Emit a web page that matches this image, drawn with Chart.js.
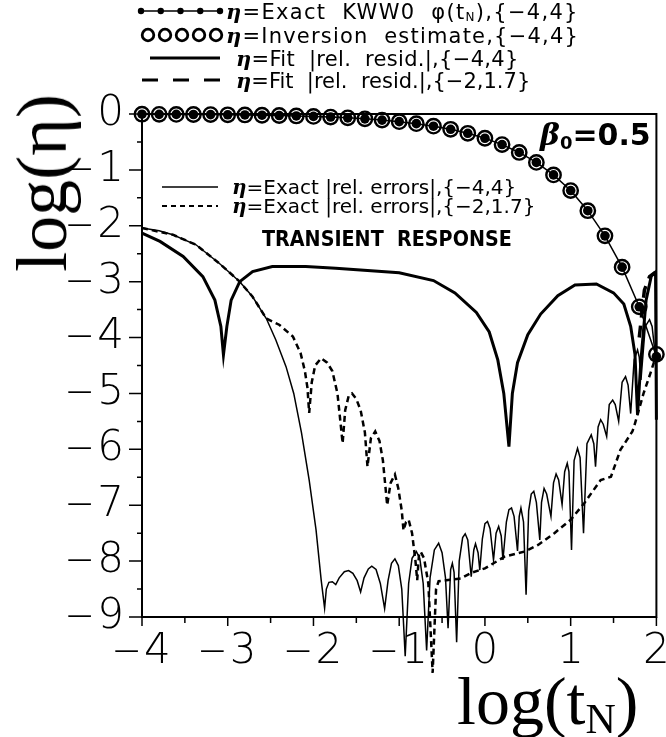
<!DOCTYPE html>
<html lang="en">
<head>
<meta charset="UTF-8">
<title>KWW0 transient response</title>
<script src="https://cdn.jsdelivr.net/npm/chart.js"></script>
<style>
  * { margin: 0; padding: 0; box-sizing: border-box; }
  body { width: 666px; height: 737px; background: #fff; overflow: hidden; color: #000;
         font-family: 'DejaVu Sans', sans-serif; }
  .wrap { position: relative; width: 666px; height: 737px; }
  #chart { position: absolute; left: 0; top: 0; }
  .t { position: absolute; white-space: nowrap; line-height: 1; }
  .leg { font-size: 21px; letter-spacing: 0.3px; }
  .leg i { font-family: 'DejaVu Serif', serif; font-weight: bold; }
  .leg sub { font-size: 12px; vertical-align: -2px; }
  .inner { font-size: 20px; letter-spacing: 0; }
  .sample { position: absolute; overflow: visible; }
  .serif { font-family: 'Liberation Serif', 'DejaVu Serif', serif; }
</style>
</head>
<body>
<div class="wrap">
  <canvas id="chart" width="666" height="737"></canvas>

  <!-- top legend -->
  <svg class="sample" style="left:136px;top:4px" width="90" height="14">
    <line x1="5" y1="7" x2="84" y2="7" stroke="#000" stroke-width="1.5"/>
    <circle cx="5" cy="7" r="3.2"/><circle cx="24.75" cy="7" r="3.2"/><circle cx="44.5" cy="7" r="3.2"/>
    <circle cx="64.25" cy="7" r="3.2"/><circle cx="84" cy="7" r="3.2"/>
  </svg>
  <div class="t leg" style="left:226px;top:1px;letter-spacing:1.3px"><i>η</i>=Exact&nbsp; KWW0&nbsp; φ(t<sub>N</sub>),{−4,4}</div>

  <svg class="sample" style="left:138px;top:27px" width="90" height="16" fill="none" stroke="#000" stroke-width="2.8">
    <circle cx="10" cy="8" r="5.8"/><circle cx="27" cy="8" r="5.8"/><circle cx="44" cy="8" r="5.8"/>
    <circle cx="61" cy="8" r="5.8"/><circle cx="78" cy="8" r="5.8"/>
  </svg>
  <div class="t leg" style="left:226px;top:25px;letter-spacing:1.2px"><i>η</i>=Inversion&nbsp; estimate,{−4,4}</div>

  <svg class="sample" style="left:140px;top:52px" width="90" height="12">
    <line x1="10" y1="6" x2="80" y2="6" stroke="#000" stroke-width="3"/>
  </svg>
  <div class="t leg" style="left:236px;top:48px"><i>η</i>=Fit&nbsp; |rel.&nbsp; resid.|,{−4,4}</div>

  <svg class="sample" style="left:140px;top:74px" width="90" height="12">
    <line x1="2" y1="6" x2="82" y2="6" stroke="#000" stroke-width="3" stroke-dasharray="16 15"/>
  </svg>
  <div class="t leg" style="left:236px;top:70px;letter-spacing:0"><i>η</i>=Fit&nbsp; |rel.&nbsp; resid.|,{−2,1.7}</div>

  <!-- inner legend -->
  <svg class="sample" style="left:160px;top:181px" width="62" height="12">
    <line x1="2" y1="6" x2="58" y2="6" stroke="#000" stroke-width="1.5"/>
  </svg>
  <div class="t leg inner" style="left:232px;top:177px"><i>η</i>=Exact |rel. errors|,{−4,4}</div>
  <svg class="sample" style="left:160px;top:200px" width="62" height="12">
    <line x1="2" y1="6" x2="58" y2="6" stroke="#000" stroke-width="2" stroke-dasharray="5 4"/>
  </svg>
  <div class="t leg inner" style="left:232px;top:196px"><i>η</i>=Exact |rel. errors|,{−2,1.7}</div>

  <div class="t" style="left:262px;top:228px;font-size:22px;font-weight:bold;transform:scaleX(0.87);transform-origin:0 0">TRANSIENT&nbsp; RESPONSE</div>
  <div class="t" style="left:540px;top:120px;font-size:30px;font-weight:bold"><i style="font-family:'DejaVu Serif',serif">β</i><sub style="font-size:18px;vertical-align:-4px">0</sub>=0.5</div>

  <!-- axis titles -->
  <div class="t serif" style="left:42px;top:183px;font-size:72px;transform:translate(-50%,-50%) rotate(-90deg)">log(η)</div>
  <div class="t serif" style="left:457px;top:667px;font-size:68px">log(t<sub style="font-size:42px;vertical-align:-9px">N</sub>)</div>
</div>

<script>
  // tick labels
  const xTickLabels = [-4, -3, -2, -1, 0, 1, 2];
  const yTickLabels = [0, -1, -2, -3, -4, -5, -6, -7, -8, -9];

  // eta = exact KWW0 phi(t_N) and the inversion estimate (same grid)
  const kwwX = [-4, -3.8, -3.6, -3.4, -3.2, -3, -2.8, -2.6, -2.4, -2.2, -2, -1.8, -1.6, -1.4, -1.2, -1,
                -0.8, -0.6, -0.4, -0.2, 0, 0.2, 0.4, 0.6, 0.8, 1, 1.2, 1.4, 1.6, 1.8, 2];
  const kwwY = [-0.004, -0.006, -0.007, -0.009, -0.011, -0.014, -0.017, -0.022, -0.027, -0.035, -0.043,
                -0.055, -0.069, -0.087, -0.109, -0.137, -0.173, -0.218, -0.274, -0.345, -0.434, -0.547,
                -0.688, -0.866, -1.09, -1.37, -1.73, -2.18, -2.74, -3.45, -4.34];
  const invY = [-0.004, -0.006, -0.007, -0.009, -0.011, -0.014, -0.017, -0.022, -0.027, -0.035, -0.043,
                -0.055, -0.069, -0.087, -0.109, -0.137, -0.173, -0.218, -0.274, -0.345, -0.434, -0.547,
                -0.688, -0.866, -1.09, -1.37, -1.73, -2.18, -2.74, -3.45, -4.30];

  // fit |rel. resid.|, {-4,4}
  const fit44X = [-4, -3.79, -3.52, -3.29, -3.15, -3.08, -3.05, -3.01, -2.96, -2.86, -2.71, -2.48, -2.09,
                  -1.74, -1.0, -0.6, -0.35, -0.1, 0.05, 0.15, 0.22, 0.28, 0.32, 0.38, 0.5, 0.65, 0.85,
                  1.05, 1.3, 1.5, 1.62, 1.7, 1.75, 1.78, 1.82, 1.88, 1.94, 1.99, 2.0];
  const fit44Y = [-2.13, -2.28, -2.55, -2.91, -3.33, -3.8, -4.31, -3.8, -3.33, -3.0, -2.82, -2.73, -2.73,
                  -2.76, -2.84, -2.98, -3.2, -3.55, -3.9, -4.4, -5.0, -5.95, -5.0, -4.45, -3.95, -3.58,
                  -3.25, -3.06, -3.04, -3.2, -3.4, -3.8, -4.3, -5.38, -4.4, -3.33, -2.9, -2.83, -5.47];

  // fit |rel. resid.|, {-2,1.7}
  const fit217X = [1.8, 1.86, 1.92, 1.99];
  const fit217Y = [-4.0, -3.15, -2.91, -2.83];

  // exact |rel. errors|, {-4,4}
  const err44X = [-4, -3.8, -3.64, -3.37, -3.1, -2.86, -2.71, -2.55, -2.44, -2.32, -2.23, -2.14, -2.05,
                  -1.97, -1.91, -1.87, -1.85, -1.82, -1.78, -1.74, -1.7, -1.64, -1.59, -1.54, -1.49,
                  -1.45, -1.41, -1.36, -1.32, -1.27, -1.22, -1.17, -1.13, -1.09, -1.05, -1.01, -0.97,
                  -0.93, -0.89, -0.85, -0.8, -0.76, -0.72, -0.68, -0.64, -0.59, -0.54, -0.5, -0.46,
                  -0.43, -0.4, -0.38, -0.36, -0.33, -0.3, -0.26, -0.23, -0.2, -0.16, -0.13, -0.11,
                  -0.08, -0.06, -0.03, 0, 0.03, 0.06, 0.1, 0.13, 0.16, 0.19, 0.21, 0.25, 0.28, 0.31,
                  0.34, 0.38, 0.4, 0.42, 0.45, 0.48, 0.51, 0.54, 0.57, 0.6, 0.64, 0.66, 0.69, 0.72,
                  0.77, 0.8, 0.83, 0.86, 0.9, 0.93, 0.96, 0.98, 1.01, 1.04, 1.08, 1.11, 1.15, 1.19,
                  1.24, 1.27, 1.29, 1.32, 1.35, 1.38, 1.42, 1.45, 1.49, 1.52, 1.56, 1.6, 1.64, 1.67,
                  1.7, 1.74, 1.78, 1.8, 1.82, 1.87, 1.92, 1.95, 1.98, 2.0];
  const err44Y = [-2.04, -2.09, -2.16, -2.34, -2.67, -3.0, -3.27, -3.66, -4.04, -4.52, -5.0, -5.7, -6.55,
                  -7.44, -8.34, -8.84, -8.5, -8.38, -8.37, -8.42, -8.3, -8.19, -8.17, -8.22, -8.35,
                  -8.55, -8.3, -8.14, -8.09, -8.15, -8.4, -8.85, -8.35, -8.04, -7.96, -8.08, -8.5,
                  -9.7, -8.4, -7.95, -7.83, -7.95, -8.4, -9.6, -8.3, -7.8, -7.68, -7.85, -8.3,
                  -9.2, -8.15, -8.04, -8.2, -9.45, -8.0, -7.58, -7.51, -7.62, -8.28, -7.8, -7.69,
                  -7.85, -8.16, -7.6, -7.33, -7.29, -7.42, -7.98, -7.5, -7.38, -7.55, -7.98, -7.3, -7.08, -7.05,
                  -7.2, -7.82, -7.2, -7.05, -7.3, -8.6, -7.1, -6.8, -6.75, -6.95, -7.62, -6.95, -6.7, -6.8,
                  -7.2, -6.6, -6.44, -6.55, -6.99, -6.4, -6.25, -6.4, -7.8, -6.2, -5.98, -6.15, -7.5, -5.9,
                  -5.74, -5.9, -6.31, -5.6, -5.47, -5.55, -5.77, -5.2, -5.12, -5.2, -5.5, -4.8, -4.7, -4.85,
                  -5.36, -4.4, -4.22, -4.35, -4.76, -3.8, -3.68, -3.8, -4.22, -4.1];

  // exact |rel. errors|, {-2,1.7}
  const err217X = [-4, -3.64, -3.37, -3.1, -2.86, -2.71, -2.55, -2.4, -2.24, -2.15, -2.1, -2.07, -2.05,
                   -2.02, -1.98, -1.91, -1.84, -1.78, -1.72, -1.66, -1.63, -1.59, -1.55, -1.5, -1.45,
                   -1.4, -1.37, -1.33, -1.28, -1.23, -1.19, -1.14, -1.1, -1.05, -1.01, -0.97, -0.95,
                   -0.92, -0.89, -0.85, -0.81, -0.79, -0.77, -0.75, -0.71, -0.66, -0.61, -0.57, -0.54,
                   -0.43, -0.28, -0.16, 0, 0.23, 0.46, 0.62, 0.81, 1.0, 1.16, 1.35, 1.47, 1.58, 1.72,
                   1.74, 1.85, 1.93, 1.98, 2.0];
  const err217Y = [-2.04, -2.16, -2.34, -2.67, -3.0, -3.27, -3.66, -3.77, -3.98, -4.28, -4.6, -4.9, -5.35,
                   -4.8, -4.5, -4.37, -4.45, -4.6, -5.0, -5.89, -5.3, -5.05, -5.0, -5.1, -5.3,
                   -5.7, -6.31, -5.8, -5.68, -5.85, -6.2, -7.0, -6.6, -6.45, -6.7, -7.1, -7.45,
                   -7.3, -7.26, -7.5, -8.0, -8.34, -7.9, -7.83, -7.95, -8.4, -10.0, -8.5, -8.36,
                   -8.34, -8.31, -8.21, -8.13, -7.92, -7.83, -7.71, -7.5, -7.26, -6.96, -6.55, -6.49, -6.01, -5.68,
                   -5.59, -5.0, -4.64, -4.4, -4.3];

  function pts(xs, ys) { return xs.map((x, i) => ({ x: x, y: ys[i] })); }
  // plotter style minus: a dash with a small gap before the digit
  function fmt(v) { return v < 0 ? '\u2012\u200A' + Math.abs(v) : String(v); }

  const tickFont = { family: "'DejaVu Sans', sans-serif", size: 42, weight: '200' };

  // full frame round the plot area, and outward tick marks (longer on whole numbers)
  const frame = {
    id: 'frame',
    beforeDatasetsDraw(chart) {
      const a = chart.chartArea, c = chart.ctx;
      const sx = chart.scales.x, sy = chart.scales.y;
      c.save();
      c.strokeStyle = '#000';
      c.lineWidth = 2;
      c.strokeRect(a.left, a.top, a.right - a.left, a.bottom - a.top);
      c.lineWidth = 1.5;
      c.beginPath();
      sx.ticks.forEach(t => {
        const p = sx.getPixelForValue(t.value);
        const len = xTickLabels.includes(t.value) ? 9 : 6;
        c.moveTo(p, a.bottom); c.lineTo(p, a.bottom + len);
      });
      sy.ticks.forEach(t => {
        const p = sy.getPixelForValue(t.value);
        const len = yTickLabels.includes(t.value) ? 13 : 5;
        c.moveTo(a.left, p); c.lineTo(a.left - len, p);
      });
      c.stroke();
      c.restore();
    }
  };

  new Chart(document.getElementById('chart'), {
    type: 'scatter',
    data: {
      datasets: [
        { label: 'Exact KWW0', data: pts(kwwX, kwwY), showLine: true, borderColor: '#000', borderWidth: 1.5,
          pointRadius: 4.8, pointBackgroundColor: '#000', pointBorderWidth: 0, clip: false },
        { label: 'Inversion estimate', data: pts(kwwX, invY), showLine: false, pointRadius: 7.2,
          pointBorderColor: '#000', pointBorderWidth: 2.4, pointBackgroundColor: 'rgba(0,0,0,0)', clip: false },
        { label: 'Fit resid {-4,4}', data: pts(fit44X, fit44Y), showLine: true, borderColor: '#000',
          borderWidth: 3, pointRadius: 0, clip: false },
        { label: 'Fit resid {-2,1.7}', data: pts(fit217X, fit217Y), showLine: true, borderColor: '#000',
          borderWidth: 3.5, borderDash: [12, 8], pointRadius: 0, clip: false },
        { label: 'Exact errors {-4,4}', data: pts(err44X, err44Y), showLine: true, borderColor: '#000',
          borderWidth: 1.5, pointRadius: 0, clip: false },
        { label: 'Exact errors {-2,1.7}', data: pts(err217X, err217Y), showLine: true, borderColor: '#000',
          borderWidth: 2.5, borderDash: [6, 4], pointRadius: 0, clip: false }
      ]
    },
    options: {
      responsive: false,
      animation: false,
      events: [],
      layout: { padding: { top: 114, right: 7, left: 0, bottom: 0 } },
      plugins: { legend: { display: false }, tooltip: { enabled: false } },
      scales: {
        x: {
          type: 'linear', min: -4, max: 2,
          afterFit(s) { s.height = 120; s.paddingLeft = 0; s.paddingRight = 0; },
          ticks: { stepSize: 0.5, autoSkip: false, maxRotation: 0, color: '#000', font: tickFont, padding: 10,
                   callback: v => xTickLabels.includes(v) ? fmt(v) : '' },
          grid: { drawOnChartArea: false, drawTicks: false },
          border: { color: '#000', width: 2 }
        },
        y: {
          type: 'linear', min: -9, max: 0,
          afterFit(s) { s.width = 142; s.paddingTop = 0; s.paddingBottom = 0; },
          ticks: { stepSize: 0.5, autoSkip: false, color: '#000', font: tickFont, padding: 18,
                   callback: v => yTickLabels.includes(v) ? fmt(v) : '' },
          grid: { drawOnChartArea: false, drawTicks: false },
          border: { color: '#000', width: 2 }
        }
      }
    },
    plugins: [frame]
  });
</script>
</body>
</html>
